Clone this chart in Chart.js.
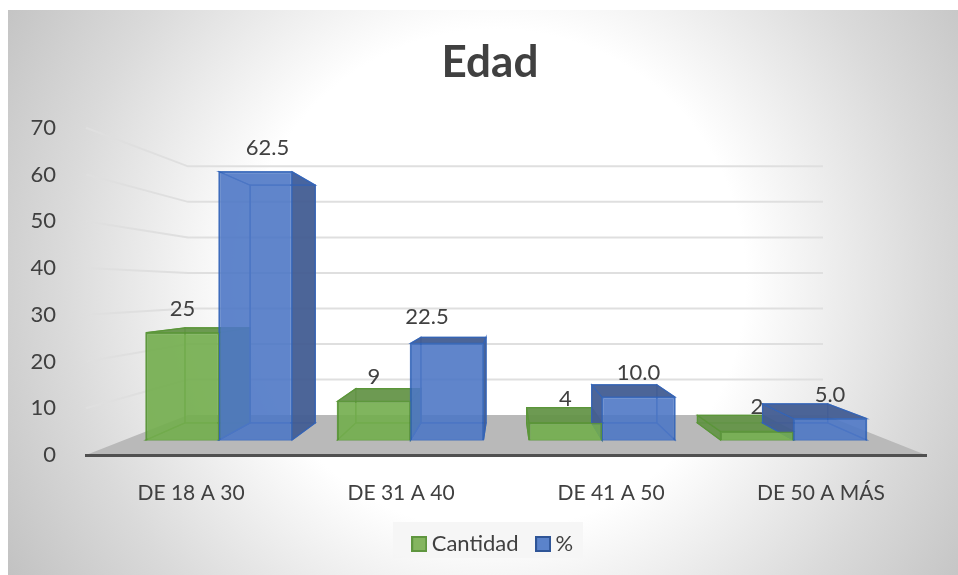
<!DOCTYPE html>
<html><head><meta charset="utf-8">
<style>html,body{margin:0;padding:0;background:#fff}canvas{display:block}</style>
<script src="https://cdn.jsdelivr.net/npm/chart.js@4"></script>
</head><body><canvas id="c" width="958" height="575"></canvas>
<script>
const categories = ['DE 18 A 30','DE 31 A 40','DE 41 A 50','DE 50 A MÁS'];
const cantidad = [25,9,4,2];
const porcentaje = [62.5,22.5,10,5];
const yTicks = [0,10,20,30,40,50,60,70];
const cantidadLabels = ['25','9','4','2'];
const porcentajeLabels = ['62.5','22.5','10.0','5.0'];
const cantidadShift = [0,0,0,0];
const porcentajeShift = [12,-20,0,0];
const porcentajeShiftY = [0,-3,0,0];
const cantidadShiftY = [0,0,0,0];

const FONT='Lato, "Open Sans", sans-serif';
const TEXT='#404040';
const styles=[
 {front:'rgba(116,174,78,.88)',dark:'rgba(100,148,72,.92)',soft:'rgba(95,155,60,.28)',line:'rgba(90,150,55,.9)',swatch:'#84b55f',swatchLine:'#5f963f'},
 {front:'rgba(78,120,198,.87)',dark:'rgba(68,94,146,.95)',soft:'rgba(55,100,185,.22)',line:'rgba(50,100,185,.85)',swatch:'#5b83cb',swatchLine:'#2f5597'}
];
const VP={x:507,y:290,sx:0.892,sy:0.886};
const bx=x=>VP.x+VP.sx*(x-VP.x), by=y=>VP.y+VP.sy*(y-VP.y);
const quad=(ctx,pts,fill,stroke)=>{ctx.beginPath();pts.forEach((p,i)=>i?ctx.lineTo(p[0],p[1]):ctx.moveTo(p[0],p[1]));ctx.closePath();
  ctx.fillStyle=fill;ctx.fill();ctx.strokeStyle=stroke;ctx.lineWidth=1.2;ctx.stroke();};
const swatch=st=>{const k=document.createElement('canvas');k.width=16;k.height=16;const x=k.getContext('2d');
  x.fillStyle=st.swatchLine;x.fillRect(0,0,16,16);x.fillStyle=st.swatch;x.fillRect(2,2,12,12);return k;};

const scene={
 id:'scene',
 afterLayout(chart){ chart.scales.y.left=30; chart.legend.left+=5.5; chart.legend.right+=5.5; },
 beforeDraw(chart){
  const c=chart.ctx;
  c.save();
  const g=c.createRadialGradient(495,280,0,495,280,570);
  g.addColorStop(0,'#ffffff');g.addColorStop(.44,'#ffffff');g.addColorStop(.76,'#dadada');g.addColorStop(1,'#c2c2c2');
  c.fillStyle=g;c.fillRect(8,10,950,565);
  c.fillStyle='rgba(245,245,245,.9)';
  c.fillRect(393,522,190,36);
  const ys=chart.scales.y;
  const y0=ys.getPixelForValue(0);
  const right=chart.scales.x.right,left=chart.scales.x.left;
  const backY=v=>415+(ys.getPixelForValue(v)-y0)*0.76;
  c.fillStyle='#b9b9b9';
  c.beginPath();c.moveTo(left,y0);c.lineTo(188,415);c.lineTo(825,415);c.lineTo(right,y0);c.closePath();c.fill();
  c.strokeStyle='#dfdfdf';c.lineWidth=2;
  yTicks.slice(1).forEach(v=>{c.beginPath();c.moveTo(left,ys.getPixelForValue(v));c.lineTo(188,backY(v));c.lineTo(823,backY(v));c.stroke();});
  c.restore();
 },
 beforeDatasetsDraw(chart){
  const c=chart.ctx;
  c.save();
  [0,1].forEach(d=>{
   const st=styles[d];
   chart.getDatasetMeta(d).data.forEach(el=>{
    const l=el.x-el.width/2,r=el.x+el.width/2,t=el.y,b=el.base;
    const L=bx(l),R=bx(r),T=by(t),B=by(b);
    quad(c,[[L,T],[R,T],[R,B],[L,B]],st.soft,st.line);
    quad(c,[[l,b],[r,b],[R,B],[L,B]],st.soft,st.line);
    quad(c,[[l,t],[l,b],[L,B],[L,T]],L<l?st.dark:st.soft,st.line);
    quad(c,[[r,t],[r,b],[R,B],[R,T]],R>r?st.dark:st.soft,st.line);
    quad(c,[[l,t],[r,t],[R,T],[L,T]],T<t?st.dark:st.soft,st.line);
   });
  });
  c.restore();
 },
 afterDatasetsDraw(chart){
  const c=chart.ctx;
  c.save();
  c.font='22px '+FONT;c.fillStyle=TEXT;c.textAlign='center';c.textBaseline='middle';
  [[cantidadLabels,cantidadShift,cantidadShiftY],[porcentajeLabels,porcentajeShift,porcentajeShiftY]].forEach((set,d)=>{
   chart.getDatasetMeta(d).data.forEach((el,i)=>{
    c.fillText(set[0][i],el.x+set[1][i],el.y-24+set[2][i]);
   });
  });
  c.restore();
 }
};

// hidden scales place the front faces of the boxes on the receding floor
const groupStart=219,groupStep=191.5,barBase=440,unitPx=4.29,plotL=86,plotR=926,plotT=128,plotB=455;
new Chart(document.getElementById('c'),{
 type:'bar',
 data:{labels:categories,datasets:[
  {label:'Cantidad',data:cantidad.map((v,i)=>({x:i,y:v})),xAxisID:'xF',yAxisID:'yF',
   backgroundColor:styles[0].front,borderColor:styles[0].line,borderWidth:1.5,pointStyle:swatch(styles[0])},
  {label:'%',data:porcentaje.map((v,i)=>({x:i,y:v})),xAxisID:'xF',yAxisID:'yF',
   backgroundColor:styles[1].front,borderColor:styles[1].line,borderWidth:1.5,pointStyle:swatch(styles[1])}
 ]},
 options:{
  responsive:false,animation:false,
  categoryPercentage:146/191.5,barPercentage:1,
  layout:{padding:{left:54,right:32,top:10,bottom:10}},
  scales:{
   x:{type:'category',position:'bottom',offset:true,
      grid:{display:false},border:{display:true,color:'#505050',width:3},
      ticks:{color:TEXT,font:{family:FONT,size:21},padding:18,maxRotation:0,autoSkip:false},
      afterFit:s=>{s.height=55}},
   y:{type:'linear',position:'left',min:0,max:70,
      grid:{display:false},border:{display:false},
      afterBuildTicks:s=>{s.ticks=yTicks.map(v=>({value:v}))},
      ticks:{color:TEXT,font:{family:FONT,size:22},padding:22},
      afterFit:s=>{s.width=32}},
   xF:{type:'linear',display:false,position:'bottom',offset:false,
      min:(plotL-groupStart)/groupStep,max:(plotR-groupStart)/groupStep,
      afterBuildTicks:s=>{s.ticks=categories.map((_,i)=>({value:i}))}},
   yF:{type:'linear',display:false,position:'left',
      min:(barBase-plotB)/unitPx,max:(barBase-plotT)/unitPx}
  },
  plugins:{
   tooltip:{enabled:false},
   title:{display:true,text:'Edad',color:TEXT,font:{family:FONT,size:44,weight:'bold'},padding:{top:26,bottom:39}},
   legend:{position:'bottom',labels:{color:TEXT,font:{family:FONT,size:22},usePointStyle:true,pointStyleWidth:3,boxHeight:15,padding:23}}
  }
 },
 plugins:[scene]
});
</script></body></html>
